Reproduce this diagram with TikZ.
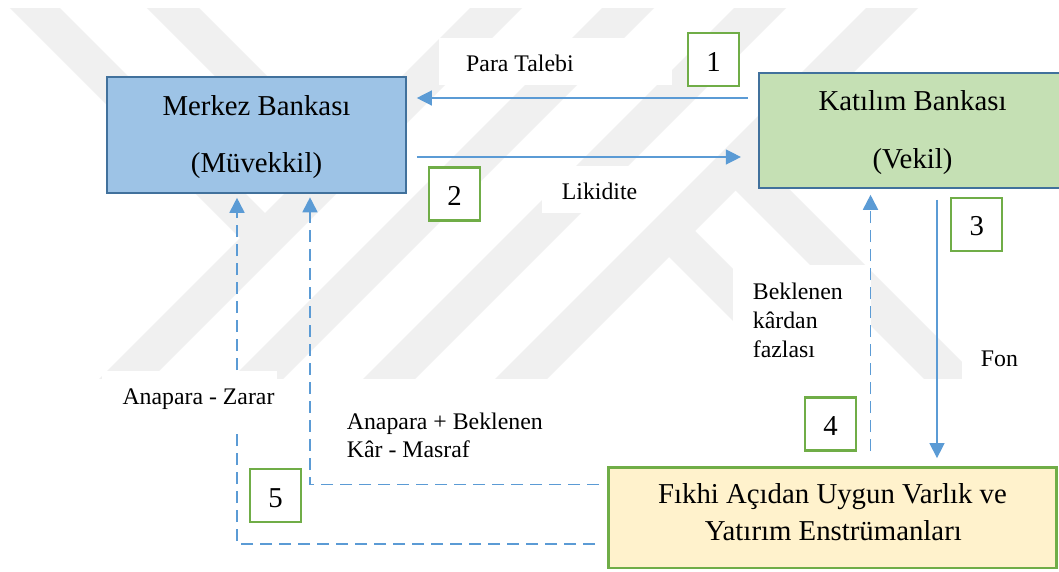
\documentclass[tikz,border=0pt]{standalone}
\usepackage{fontspec}
\setmainfont{Liberation Serif}
\usetikzlibrary{arrows.meta}

\definecolor{boxblue}{HTML}{9DC3E6}
\definecolor{edgeblue}{HTML}{41719C}
\definecolor{boxgreen}{HTML}{C5E0B4}
\definecolor{boxyellow}{HTML}{FFF2CC}
\definecolor{numgreen}{HTML}{70AD47}
\definecolor{arrowblue}{HTML}{5B9BD5}
\definecolor{wmgray}{RGB}{240,240,240}

\newcommand\dgBox{\fontsize{28.8}{34}\selectfont}
\newcommand\dgLbl{\fontsize{23.8}{29}\selectfont}

\begin{document}
\begin{tikzpicture}[x=1pt,y=-1pt,
  bank/.style={draw=edgeblue, line width=2.2pt, inner sep=0pt},
  fundbox/.style={draw=numgreen, fill=boxyellow, line width=2.5pt, inner sep=0pt},
  numbox/.style={draw=numgreen, fill=white, line width=2.4pt, minimum width=51pt,
    minimum height=53pt, inner sep=0pt, text height=23pt, text depth=0pt, font=\dgBox},
  tag/.style={fill=white, inner sep=0pt},
  lbl/.style={anchor=base west, inner sep=0pt, font=\dgLbl},
  boxtxt/.style={anchor=base, inner sep=0pt, font=\dgBox},
  flow/.style={draw=arrowblue, line width=1.3pt, -{Triangle[length=15pt,width=15pt]}},
  dflow/.style={flow, line width=1.8pt, dash pattern=on 12pt off 7pt},
]
\useasboundingbox (0,0) rectangle (1059,571);
\fill[white] (0,0) rectangle (1059,571);

% light background emblem made of diagonal bands
\begin{scope}
  \clip (0,8) rectangle (1059,378);
  \foreach \L in {470,602,734,866}
    \fill[wmgray] (\L+8,0) -- (\L+60,0) -- (\L+60-390,390) -- (\L+8-390,390) -- cycle;
  \fill[wmgray] (2,0) -- (52,0) -- (278,226) -- (253,251) -- cycle;
  \fill[wmgray] (139,0) -- (191,0) -- (347.5,156.5) -- (321.5,182.5) -- cycle;
  \fill[wmgray] (656,244) -- (682,218) -- (854,390) -- (802,390) -- cycle;
  \fill[wmgray] (722.5,177.5) -- (750,150) -- (990,390) -- (935,390) -- cycle;
\end{scope}

% white panels behind the flow labels
\node[tag, minimum width=233pt, minimum height=47.3pt] (tagPara) at (555.8,61.4) {};
\node[tag, minimum width=116.6pt, minimum height=47pt] (tagLik) at (600,189.2) {};
\node[tag, minimum width=138.3pt, minimum height=120pt] (tagBek) at (801.8,325) {};
\node[tag, minimum width=83pt, minimum height=67pt] (tagFon) at (1003.5,361.5) {};

% main parties
\node[bank, fill=boxblue, minimum width=298.4pt, minimum height=115.4pt] (merkez) at (256.5,135) {};
\node[bank, fill=boxgreen, minimum width=307pt, minimum height=114.4pt] (katilim) at (912.5,130.5) {};
\node[fundbox, minimum width=448.4pt, minimum height=100.7pt] (fikhi) at (832.5,517.7) {};

\node[boxtxt] (merkezA) at (256.5,115) {Merkez Bankası};
\node[boxtxt] (merkezB) at (256.5,172.7) {(Müvekkil)};
\node[boxtxt] (katilimA) at (912.5,110.7) {Katılım Bankası};
\node[boxtxt] (katilimB) at (912.5,168.3) {(Vekil)};
\node[boxtxt] (fikhiA) at (832.5,503.3) {Fıkhi Açıdan Uygun Varlık ve};
\node[boxtxt] (fikhiB) at (833.3,540) {Yatırım Enstrümanları};

% step numbers
\node[numbox] (n1) at (713.5,59.5) {1};
\node[numbox] (n2) at (454.5,194) {2};
\node[numbox] (n3) at (976.7,224.2) {3};
\node[numbox] (n4) at (830.5,424) {4};
\node[numbox] (n5) at (275.5,495.7) {5};

% flow labels
\node[lbl] (lPara) at (466,71) {Para Talebi};
\node[lbl] (lLik) at (561.7,199.3) {Likidite};
\node[lbl] (lBek1) at (752.7,299) {Beklenen};
\node[lbl] (lBek2) at (752.7,328) {kârdan};
\node[lbl] (lBek3) at (752.7,357) {fazlası};
\node[lbl] (lFon) at (980.7,366.7) {Fon};
\node[lbl] (lKar1) at (346.7,429) {Anapara + Beklenen};
\node[lbl] (lKar2) at (346.7,457) {Kâr - Masraf};

% guide coordinates for the connectors
\coordinate (paraY) at (0,98);
\coordinate (likY) at (0,157);
\coordinate (fonX) at (937,0);
\coordinate (bekX) at (870.5,0);
\coordinate (zararX) at (237,0);
\coordinate (zararY) at (0,544);
\coordinate (karX) at (310,0);
\coordinate (karY) at (0,484.5);

% connectors
\draw[flow] ([xshift=-10pt]katilim.west |- paraY) -- ([xshift=10pt]merkez.east |- paraY);
\draw[flow] ([xshift=10pt]merkez.east |- likY) -- ([xshift=-17pt]katilim.west |- likY);
\draw[flow] ([yshift=-11pt]katilim.south -| fonX) -- ([yshift=8pt]fikhi.north -| fonX);
\draw[dflow] ([yshift=15pt]fikhi.north -| bekX) -- ([yshift=-6pt]katilim.south -| bekX);
\draw[dflow] ([xshift=-12pt]fikhi.west |- zararY) -| ([yshift=-4pt]merkez.south -| zararX);
\draw[dflow] ([xshift=-8pt]fikhi.west |- karY) -| ([yshift=-3.5pt]merkez.south -| karX);

% label panel that interrupts the left return line
\node[tag, minimum width=175pt, minimum height=59pt] (tagZarar) at (189.2,400.5) {};
\node[lbl] (lZarar) at (122.3,404) {Anapara - Zarar};
\end{tikzpicture}
\end{document}
